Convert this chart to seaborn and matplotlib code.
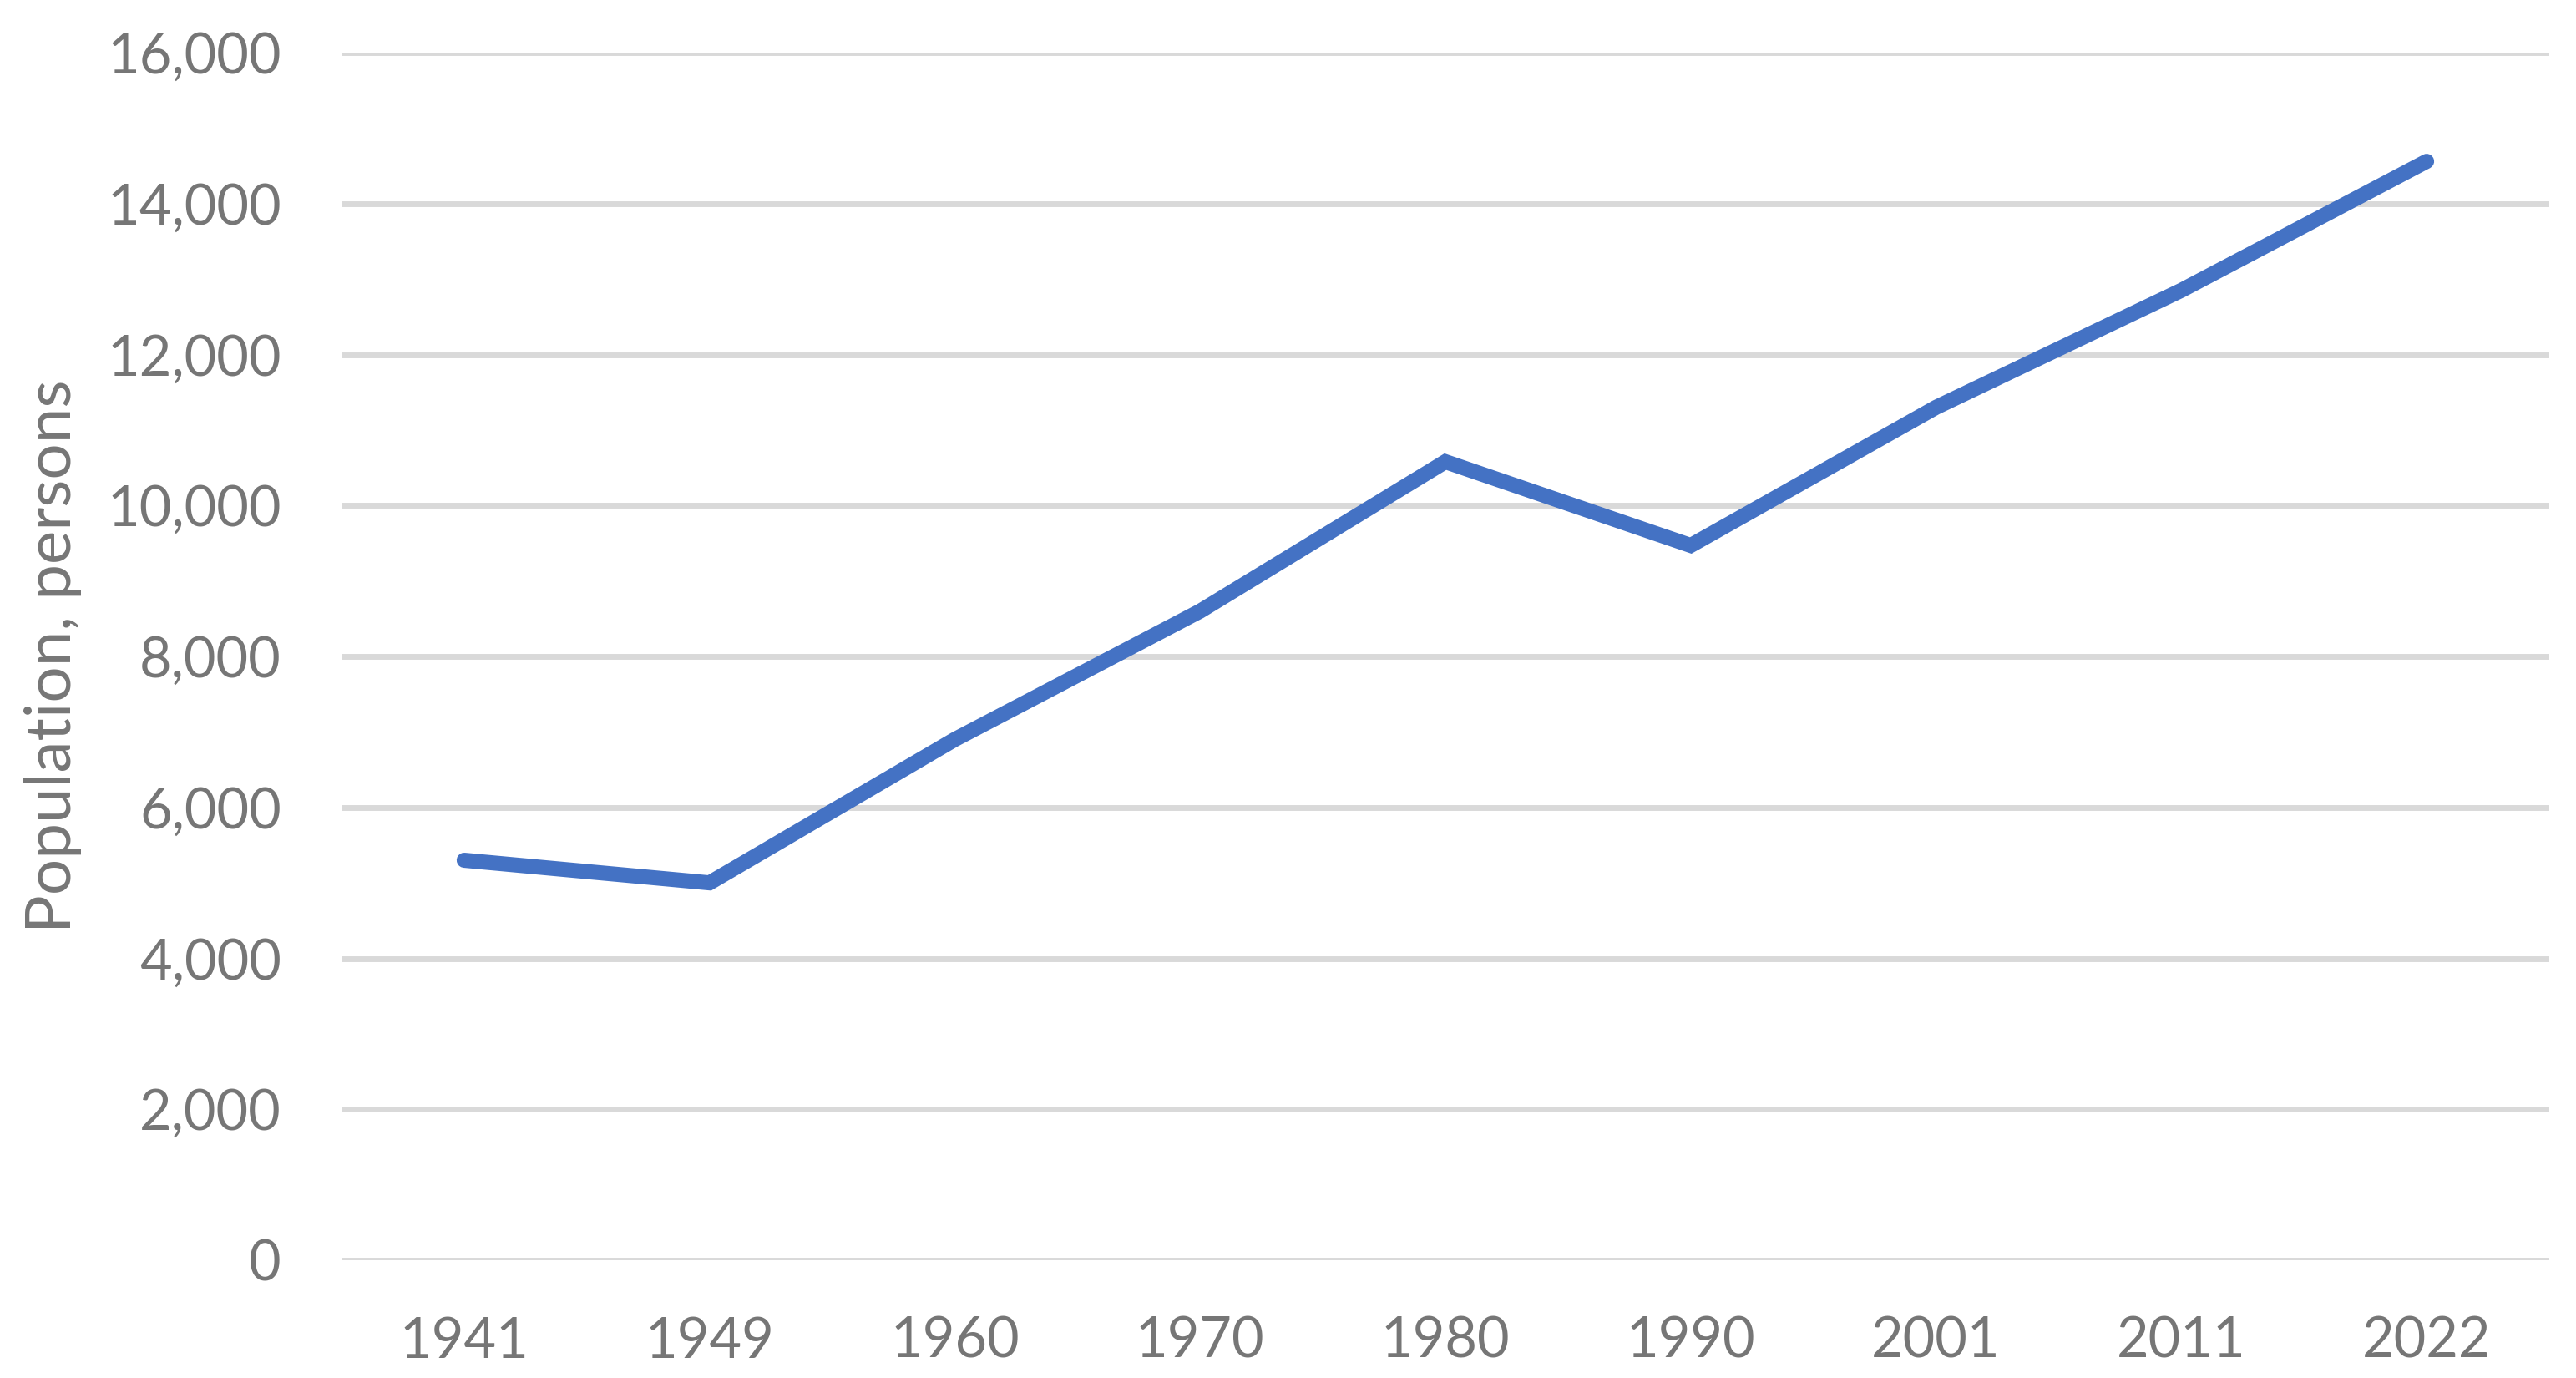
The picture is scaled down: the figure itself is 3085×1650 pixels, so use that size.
import pandas as pd
import seaborn as sns
import matplotlib.pyplot as plt
from matplotlib.ticker import FuncFormatter

# population by census year
years = ["1941", "1949", "1960", "1970", "1980", "1990", "2001", "2011", "2022"]
population = [5300, 5000, 6900, 8600, 10580, 9470, 11300, 12850, 14560]
y_ticks = [0, 2000, 4000, 6000, 8000, 10000, 12000, 14000, 16000]

data = pd.DataFrame({"year": years, "population": population})

sns.set_style("white")
plt.rcParams['font.family'] = ['Lato', 'DejaVu Sans']

text_color = "#767676"

fig = plt.figure(figsize=(30.85, 16.5), dpi=100)
ax = fig.add_axes([409 / 3085, 1 - 1509 / 1650, (3053 - 409) / 3085, (1509 - 63) / 1650])

sns.lineplot(data=data, x="year", y="population", sort=False, ax=ax,
             color="#4472C4", linewidth=13, solid_capstyle="round",
             solid_joinstyle="miter", zorder=3)

ax.set_xlim(-0.5, len(years) - 0.5)
ax.set_ylim(0, 16000)
ax.set_yticks(y_ticks)
ax.yaxis.set_major_formatter(FuncFormatter(lambda v, p: f"{int(v):,}"))
ax.grid(axis="y", color="#D9D9D9", linewidth=5)
ax.grid(axis="x", visible=False)
ax.set_axisbelow(True)
sns.despine(ax=ax, left=True, bottom=True)

ax.tick_params(axis="both", length=0, labelsize=48, labelcolor=text_color)
ax.tick_params(axis="y", pad=52)
ax.tick_params(axis="x", pad=48)
ax.set_xlabel("")
ax.set_ylabel("Population, persons", fontsize=55, color=text_color, labelpad=22)

fig.savefig("out.png", dpi=100)
